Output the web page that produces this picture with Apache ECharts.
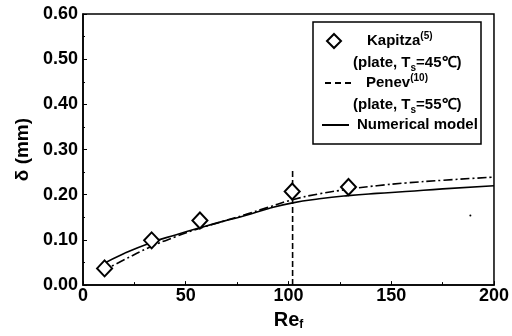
<!DOCTYPE html>
<html>
<head>
<meta charset="utf-8">
<script src="https://cdn.jsdelivr.net/npm/echarts@6/dist/echarts.min.js"></script>
<style>
html,body{margin:0;padding:0;background:#fff;}
#c{width:512px;height:336px;}
</style>
</head>
<body>
<div id="c"></div>
<script>
// Kapitza experimental points (Re_f, delta mm)
var kapitzaRe = [10.5, 33.4, 56.9, 101.8, 129.2];
var kapitzaDelta = [0.037, 0.099, 0.143, 0.207, 0.217];

// Numerical model curve
var modelRe = [9, 20, 33, 45, 57, 68, 79, 90, 102, 115, 129, 143, 157, 175, 200];
var modelDelta = [0.045, 0.070, 0.094, 0.111, 0.127, 0.141, 0.154, 0.169, 0.182, 0.191, 0.198, 0.203, 0.207, 0.213, 0.220];

// Dash-dot correlation curve
var dashDotRe = [9, 20, 33, 45, 57, 68, 79, 90, 102, 115, 129, 143, 157, 175, 200];
var dashDotDelta = [0.030, 0.056, 0.085, 0.107, 0.126, 0.141, 0.156, 0.172, 0.189, 0.202, 0.212, 0.220, 0.226, 0.232, 0.239];

// Penev vertical dashed line
var penevRe = [102, 102];
var penevDelta = [0, 0.256];

// stray speck in the figure
var speckRe = [188.5];
var speckDelta = [0.154];

// axis ticks
var xTicks = [0, 50, 100, 150, 200];
var yTicks = [0.00, 0.10, 0.20, 0.30, 0.40, 0.50, 0.60];

function zip(a, b) { return a.map(function (v, i) { return [v, b[i]]; }); }

var FONT = '"Liberation Sans", Arial, sans-serif';
var chart = echarts.init(document.getElementById('c'), null, {renderer: 'canvas'});
chart.setOption({
  animation: false,
  backgroundColor: '#fff',
  grid: {left: 83, right: 12, top: 14, bottom: 49, show: true, borderColor: '#000', borderWidth: 1.5, backgroundColor: 'transparent'},
  xAxis: {
    type: 'value', min: xTicks[0], max: xTicks[xTicks.length - 1], interval: 50,
    axisLine: {show: true, onZero: false, lineStyle: {color: '#000', width: 1.5}},
    axisTick: {show: true, inside: true, length: 4, lineStyle: {color: '#000'}},
    minorTick: {show: true, splitNumber: 2, length: 3, lineStyle: {color: '#000'}},
    splitLine: {show: false},
    axisLabel: {color: '#000', fontFamily: FONT, fontWeight: 'bold', fontSize: 18, margin: 2},
    name: '{a|Re}{b|f}', nameLocation: 'middle', nameGap: 20,
    nameTextStyle: {rich: {
      a: {fontFamily: FONT, fontSize: 20, fontWeight: 'bold', color: '#000', lineHeight: 22},
      b: {fontFamily: FONT, fontSize: 12, fontWeight: 'bold', color: '#000', lineHeight: 12, verticalAlign: 'bottom'}
    }}
  },
  yAxis: {
    type: 'value', min: yTicks[0], max: yTicks[yTicks.length - 1], interval: 0.1,
    axisLine: {show: true, onZero: false, lineStyle: {color: '#000', width: 1.5}},
    axisTick: {show: true, inside: true, length: 4, lineStyle: {color: '#000'}},
    minorTick: {show: true, splitNumber: 2, length: 2, lineStyle: {color: '#000'}},
    splitLine: {show: false},
    axisLabel: {color: '#000', fontFamily: FONT, fontWeight: 'bold', fontSize: 18, margin: 5,
      formatter: function (v) { return v.toFixed(2); }},
    name: 'δ (mm)', nameLocation: 'middle', nameGap: 47, nameRotate: 90,
    nameTextStyle: {fontFamily: FONT, fontSize: 19, fontWeight: 'bold', color: '#000'}
  },
  series: [
    {type: 'line', data: zip(dashDotRe, dashDotDelta), smooth: true, symbol: 'none',
     lineStyle: {color: '#000', width: 1.6, type: [9, 3, 2, 3]}, z: 2},
    {type: 'line', data: zip(modelRe, modelDelta), smooth: true, symbol: 'none',
     lineStyle: {color: '#000', width: 1.6}, z: 2},
    {type: 'line', data: zip(penevRe, penevDelta), symbol: 'none',
     lineStyle: {color: '#000', width: 1.6, type: [6, 3]}, z: 2},
    {type: 'scatter', data: zip(kapitzaRe, kapitzaDelta), symbol: 'diamond', symbolSize: [15, 16],
     itemStyle: {color: '#fff', borderColor: '#000', borderWidth: 2, opacity: 1}, z: 3},
    {type: 'scatter', data: zip(speckRe, speckDelta), symbol: 'circle', symbolSize: 2,
     itemStyle: {color: '#000', opacity: 1}, z: 3}
  ],
  graphic: [
    {type: 'rect', shape: {x: 313, y: 22, width: 168, height: 122}, style: {fill: '#fff', stroke: '#000', lineWidth: 1.5}, z: 10},
    {type: 'polygon', shape: {points: [[334, 34], [341, 41], [334, 48], [327, 41]]}, style: {fill: '#fff', stroke: '#000', lineWidth: 2}, z: 11},
    {type: 'text', x: 367, y: 41, z: 11, style: {text: '{a|Kapitza}{s|(5)}', verticalAlign: 'middle', align: 'left',
      rich: {a: {fontFamily: FONT, fontSize: 15, fontWeight: 'bold', lineHeight: 20, fill: '#000'},
             s: {fontFamily: FONT, fontSize: 10, fontWeight: 'bold', lineHeight: 10, verticalAlign: 'top', fill: '#000'}}}},
    {type: 'text', x: 353, y: 63, z: 11, style: {text: '{a|(plate, T}{b|s}{a|=45℃)}', verticalAlign: 'middle', align: 'left',
      rich: {a: {fontFamily: FONT, fontSize: 15, fontWeight: 'bold', lineHeight: 20, fill: '#000'},
             b: {fontFamily: FONT, fontSize: 10, fontWeight: 'bold', lineHeight: 10, verticalAlign: 'bottom', fill: '#000'}}}},
    {type: 'line', shape: {x1: 325, y1: 83, x2: 351, y2: 83}, style: {stroke: '#000', lineWidth: 2, lineDash: [6, 4]}, z: 11},
    {type: 'text', x: 366, y: 83, z: 11, style: {text: '{a|Penev}{s|(10)}', verticalAlign: 'middle', align: 'left',
      rich: {a: {fontFamily: FONT, fontSize: 15, fontWeight: 'bold', lineHeight: 20, fill: '#000'},
             s: {fontFamily: FONT, fontSize: 10, fontWeight: 'bold', lineHeight: 10, verticalAlign: 'top', fill: '#000'}}}},
    {type: 'text', x: 353, y: 105, z: 11, style: {text: '{a|(plate, T}{b|s}{a|=55℃)}', verticalAlign: 'middle', align: 'left',
      rich: {a: {fontFamily: FONT, fontSize: 15, fontWeight: 'bold', lineHeight: 20, fill: '#000'},
             b: {fontFamily: FONT, fontSize: 10, fontWeight: 'bold', lineHeight: 10, verticalAlign: 'bottom', fill: '#000'}}}},
    {type: 'line', shape: {x1: 322, y1: 125, x2: 349, y2: 125}, style: {stroke: '#000', lineWidth: 2}, z: 11},
    {type: 'text', x: 357, y: 125, z: 11, style: {text: 'Numerical model', verticalAlign: 'middle', align: 'left',
      font: 'bold 15px ' + FONT, fill: '#000'}}
  ]
});
</script>
</body>
</html>
